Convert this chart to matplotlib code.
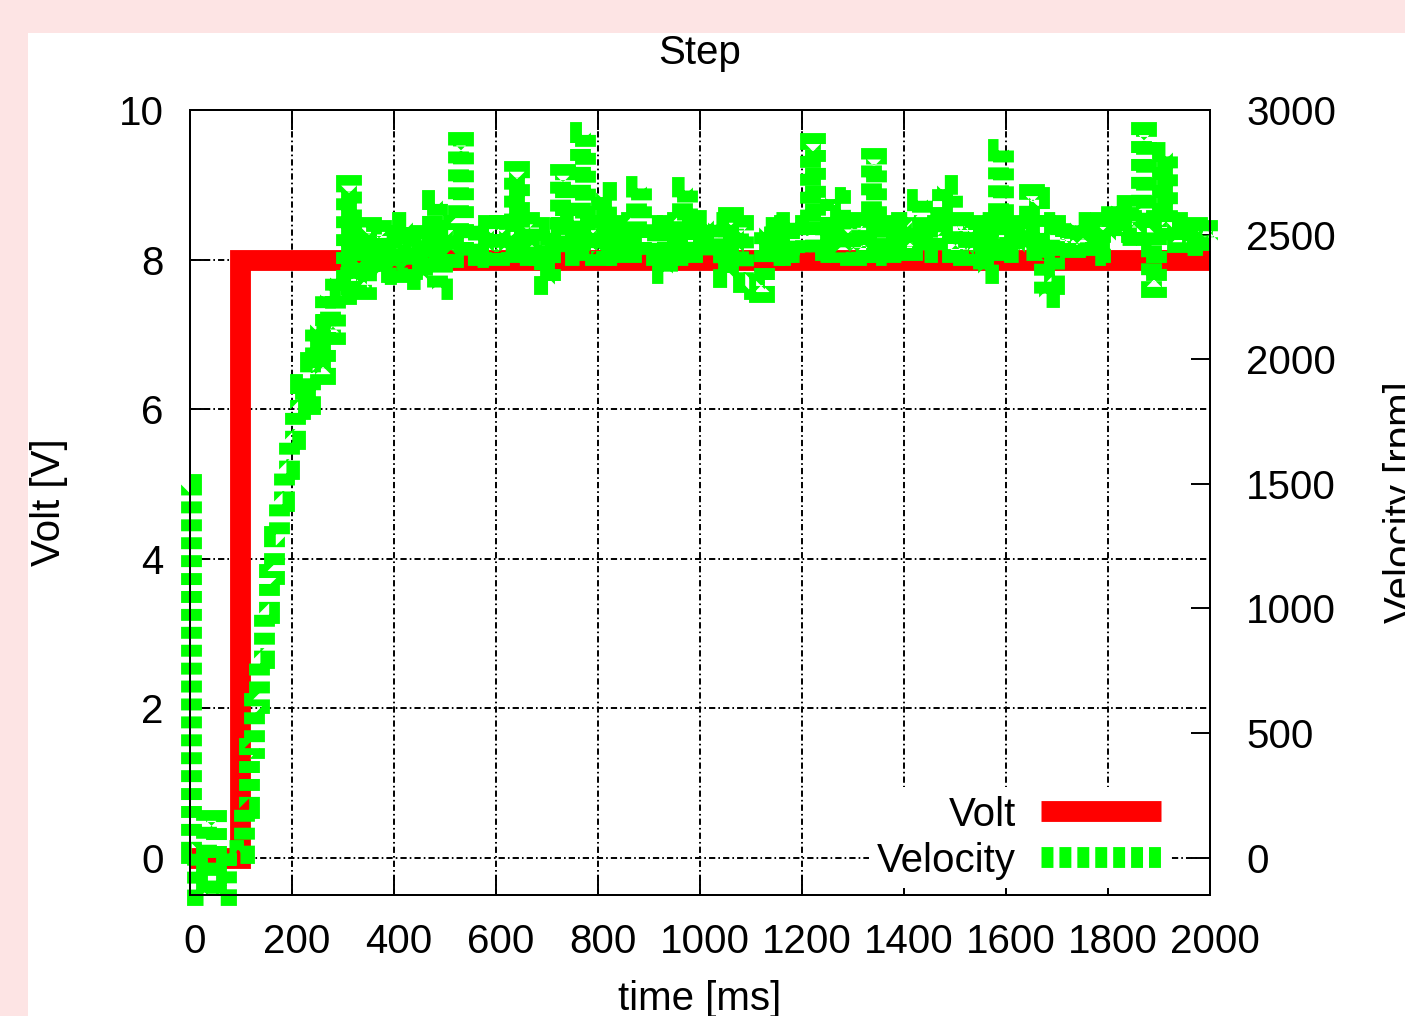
import matplotlib
matplotlib.use('Agg')
import matplotlib.pyplot as plt
from matplotlib.patches import Rectangle
from matplotlib.transforms import ScaledTranslation

plt.rcParams['font.family'] = ['Liberation Sans', 'DejaVu Sans']
plt.rcParams['lines.scale_dashes'] = False

# --- data ---
volt_time = [0, 98, 2000]
volt = [0, 8, 8]

# first 100 ms are sampled irregularly, then every 10 ms
vel_time_start = [0, 4, 25, 39, 63, 78, 90]
vel_start = [1500, 20, -150, 150, -150, 30, 10]

vel_time_run = list(range(100, 2001, 10))
vel_run = [
    20, 200, 440, 620, 800, 980, 1140, 1290, 1430, 1560,            # 100
    1680, 1800, 1900, 1820, 1990, 2140, 1940, 2260, 2100, 2330,     # 200
    2260, 2700, 2300, 2420, 2280, 2530, 2360, 2520, 2340, 2480,     # 300
    2350, 2500, 2550, 2360, 2470, 2320, 2500, 2400, 2640, 2280,     # 400
    2520, 2410, 2540, 2870, 2420, 2540, 2410, 2530, 2430, 2540,     # 500
    2420, 2540, 2430, 2530, 2755, 2420, 2550, 2430, 2530, 2420,     # 600
    2300, 2530, 2440, 2745, 2430, 2540, 2420, 2910, 2440, 2540,     # 700
    2420, 2670, 2430, 2550, 2420, 2540, 2430, 2550, 2695, 2420,     # 800
    2540, 2410, 2530, 2345, 2540, 2430, 2550, 2690, 2420, 2540,     # 900
    2430, 2560, 2420, 2550, 2440, 2330, 2570, 2430, 2540, 2310,     # 1000
    2300, 2280, 2270, 2530, 2420, 2550, 2430, 2540, 2420, 2550,     # 1100
    2430, 2540, 2868, 2430, 2550, 2440, 2650, 2640, 2430, 2540,     # 1200
    2420, 2550, 2430, 2540, 2808, 2430, 2550, 2420, 2540, 2430,     # 1300
    2550, 2440, 2540, 2643, 2430, 2550, 2440, 2540, 2700, 2660,     # 1400
    2430, 2550, 2420, 2540, 2440, 2550, 2346, 2540, 2430, 2843,     # 1500
    2440, 2550, 2430, 2540, 2440, 2663, 2650, 2440, 2250, 2300,     # 1600
    2550, 2460, 2540, 2450, 2550, 2460, 2540, 2420, 2430, 2550,     # 1700
    2480, 2619, 2620, 2500, 2560, 2510, 2570, 2912, 2500, 2290,     # 1800
    2560, 2832, 2480, 2550, 2470, 2540, 2460, 2530, 2470, 2520,     # 1900
    2480,                                                           # 2000
]

vel_time = vel_time_start + vel_time_run
velocity = vel_start + vel_run

time_ticks = list(range(0, 2001, 200))
volt_ticks = list(range(0, 11, 2))
vel_ticks = list(range(0, 3001, 500))

# --- figure ---
W, H = 1405, 1016
fig = plt.figure(figsize=(W / 100, H / 100), dpi=100, facecolor='#fde4e4')
fig.patches.append(Rectangle((28 / W, 0), 1, 1 - 33 / H, transform=fig.transFigure,
                             facecolor='white', edgecolor='none', zorder=-1))

ax = fig.add_axes([190 / W, 1 - 895 / H, 1020 / W, 785 / H])
ax.set_facecolor('white')

red_line, = ax.plot(volt_time, volt, color='#ff0000', lw=15, drawstyle='steps-post',
                    solid_joinstyle='miter', solid_capstyle='butt', clip_on=False)

ax2 = ax.twinx()
# the logged speed is held between samples, so draw it as steps
green_line, = ax2.plot(vel_time, velocity, color='#00ff00', lw=15, dashes=(8.6, 4.3),
                       drawstyle='steps-mid', dash_capstyle='butt',
                       dash_joinstyle='miter', clip_on=False)

ax.set_xlim(0, 2000)
ax.set_ylim(-0.5, 10)
ax2.set_ylim(-150, 3000)

ax.set_xticks(time_ticks)
ax.set_yticks(volt_ticks)
ax2.set_yticks(vel_ticks)

ax.tick_params(axis='x', direction='in', length=14.5, width=1.4, top=True,
               labelsize=29, pad=20)
ax.tick_params(axis='y', direction='in', length=14.5, width=1.4, right=False,
               labelsize=29, pad=19)
ax2.tick_params(axis='y', direction='in', length=14, width=1.4, labelsize=29, pad=26)

# gnuplot puts the x labels a few pixels right of the tick
shift = ScaledTranslation(5 / 100, 0, fig.dpi_scale_trans)
for lbl in ax.get_xticklabels():
    lbl.set_transform(lbl.get_transform() + shift)

for a in (ax, ax2):
    for sp in a.spines.values():
        sp.set_linewidth(1.4)

ax.grid(True, color='black', lw=1.4, linestyle=(0, (4.5, 2.2, 1.2, 2.2)))

ax.set_title('Step', fontsize=29, pad=33)
ax.set_xlabel('time [ms]', fontsize=29)
ax.xaxis.set_label_coords(0.5, -0.108)
ax.set_ylabel('Volt [V]', fontsize=29)
ax.yaxis.set_label_coords(-0.12, 0.5)
ax2.set_ylabel('Velocity [rpm]', fontsize=29)
ax2.yaxis.set_label_coords(1.17, 0.5)

ax2.legend([red_line, green_line], ['Volt', 'Velocity'], loc='lower right',
           bbox_to_anchor=(0.96, 0.0094), borderaxespad=0, fontsize=29,
           markerfirst=False, handlelength=2.98, handletextpad=0.62,
           labelspacing=0.2, borderpad=0.2, frameon=True, fancybox=False,
           edgecolor='none', facecolor='white', framealpha=1)

fig.savefig('out.png', dpi=100, facecolor=fig.get_facecolor())
